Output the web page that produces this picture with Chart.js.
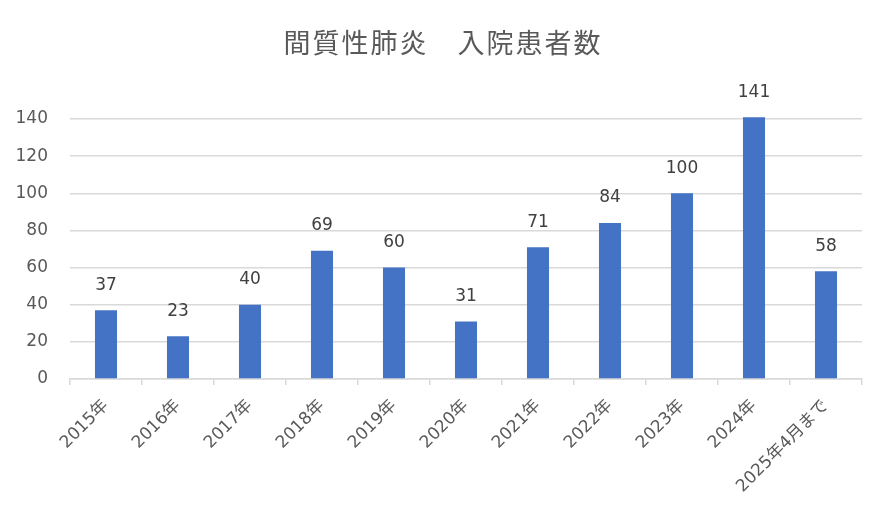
<!DOCTYPE html>
<html lang="ja">
<head>
<meta charset="utf-8">
<title>間質性肺炎　入院患者数</title>
<script src="https://cdn.jsdelivr.net/npm/chart.js@4.4.1/dist/chart.umd.min.js"></script>
<style>
  html, body { margin: 0; padding: 0; background: #ffffff; }
  #wrap { width: 885px; height: 527px; }
</style>
</head>
<body>
<div id="wrap"><canvas id="c" width="885" height="527"></canvas></div>
<script>
// 年ごとの入院患者数
const categories = ['2015年', '2016年', '2017年', '2018年', '2019年', '2020年',
                    '2021年', '2022年', '2023年', '2024年', '2025年4月まで'];
const patients = [37, 23, 40, 69, 60, 31, 71, 84, 100, 141, 58];
const yTicks = [0, 20, 40, 60, 80, 100, 120, 140];
const chartTitle = '間質性肺炎　入院患者数';

const FONT = '"DejaVu Sans", "Noto Sans CJK JP", sans-serif';
const CJK_FONT = '"Noto Sans CJK JP", "Noto Sans", sans-serif';
const TEXT = '#595959';
const GRID = '#d9d9d9';

// タイトル（字間を少し広げて描く）
const titleText = {
  id: 'titleText',
  afterDraw(chart) {
    const ctx = chart.ctx;
    ctx.save();
    ctx.font = '27px ' + CJK_FONT;
    ctx.letterSpacing = '2px';
    ctx.fillStyle = TEXT;
    ctx.textAlign = 'center';
    ctx.textBaseline = 'middle';
    ctx.fillText(chartTitle, 443, 43);
    ctx.restore();
  }
};

// 棒の上に値を表示する
const valueLabels = {
  id: 'valueLabels',
  afterDatasetsDraw(chart) {
    const ctx = chart.ctx;
    const meta = chart.getDatasetMeta(0);
    const data = chart.data.datasets[0].data;
    ctx.save();
    ctx.font = '17px ' + FONT;
    ctx.fillStyle = '#404040';
    ctx.textAlign = 'center';
    ctx.textBaseline = 'middle';
    meta.data.forEach((bar, i) => {
      ctx.fillText(String(data[i]), bar.x, bar.y - 25);
    });
    ctx.restore();
  }
};

new Chart(document.getElementById('c'), {
  type: 'bar',
  data: {
    labels: categories,
    datasets: [{
      label: '入院患者数',
      data: patients,
      backgroundColor: '#4472c4',
      borderWidth: 0,
      barPercentage: 0.306,
      categoryPercentage: 1.0,
      clip: false
    }]
  },
  options: {
    responsive: false,
    animation: false,
    layout: { padding: { left: 0, right: 23, top: 119, bottom: 0 } },
    plugins: {
      legend: { display: false },
      tooltip: { enabled: false },
      title: { display: false }
    },
    scales: {
      x: {
        offset: true,
        grid: {
          offset: true,
          display: true,
          drawOnChartArea: false,
          drawTicks: true,
          tickLength: 6,
          color: GRID,
          lineWidth: 1.5
        },
        border: { display: true, color: GRID, width: 1.5 },
        ticks: {
          autoSkip: false,
          maxRotation: 45,
          minRotation: 45,
          color: TEXT,
          padding: 11,
          font: { family: FONT, size: 17 }
        },
        afterFit(scale) { scale.height = 148; }
      },
      y: {
        min: 0,
        max: 140,
        afterBuildTicks(scale) { scale.ticks = yTicks.map(v => ({ value: v })); },
        grid: { color: GRID, lineWidth: 1.5, drawTicks: false },
        border: { display: false },
        ticks: {
          color: TEXT,
          padding: 22,
          font: { family: FONT, size: 17 }
        },
        afterFit(scale) { scale.width = 70; }
      }
    }
  },
  plugins: [valueLabels, titleText]
});
</script>
</body>
</html>
